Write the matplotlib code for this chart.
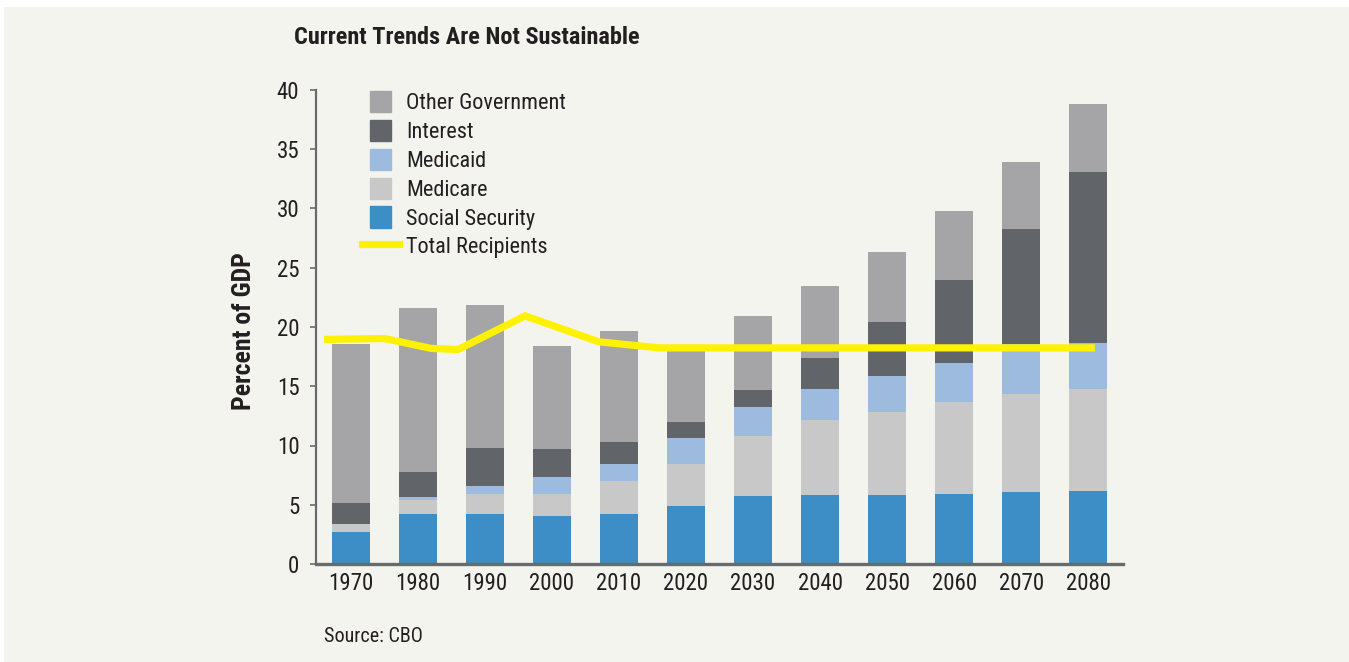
import matplotlib
matplotlib.use('Agg')
import matplotlib.pyplot as plt
from matplotlib.patches import Rectangle
from matplotlib.lines import Line2D
from matplotlib.legend_handler import HandlerPatch
from matplotlib import font_manager
import numpy as np

# spending by decade, percent of GDP
years = ['1970', '1980', '1990', '2000', '2010', '2020',
         '2030', '2040', '2050', '2060', '2070', '2080']
social_security = [2.7, 4.2, 4.2, 4.05, 4.2, 4.9, 5.74, 5.82, 5.82, 5.9, 6.07, 6.16]
medicare = [0.67, 1.2, 1.7, 1.85, 2.8, 3.53, 5.06, 6.32, 7.0, 7.76, 8.29, 8.6]
medicaid = [0.0, 0.25, 0.68, 1.44, 1.43, 2.19, 2.44, 2.62, 3.03, 3.29, 4.24, 3.87]
interest = [1.77, 2.1, 3.2, 2.36, 1.86, 1.35, 1.43, 2.61, 4.55, 7.0, 9.65, 14.42]
other_govt = [13.46, 13.85, 12.06, 8.68, 9.35, 6.13, 6.23, 6.07, 5.9, 5.81, 5.65, 5.75]

# receipts line, yearly vertices
line_years = [1966, 1975, 1982, 1986, 1996, 2007, 2016, 2081]
line_values = [18.95, 19.03, 18.19, 18.1, 20.94, 18.75, 18.24, 18.24]

names = ['Social Security', 'Medicare', 'Medicaid', 'Interest', 'Other Government']
colors = ['#3d8dc6', '#c8c8c8', '#9dbadf', '#616569', '#a5a5a7']
series = [social_security, medicare, medicaid, interest, other_govt]

# pick a condensed face if one is around
installed = {f.name for f in font_manager.fontManager.ttflist}
font = 'Liberation Sans'
for cand in ['Roboto Condensed', 'Archivo Narrow', 'PT Sans Narrow',
             'Liberation Sans Narrow', 'Encode Sans Condensed', 'Open Sans Condensed',
             'Pragati Narrow', 'Asap Condensed']:
    if cand in installed:
        font = cand
        break
plt.rcParams['font.family'] = [font, 'DejaVu Sans']


def square_patch(legend, orig_handle, xdescent, ydescent, width, height, fontsize):
    # square swatch centred in the handle box
    side = height
    return Rectangle((-xdescent + (width - side) / 2, -ydescent), side, side)


W, H = 1349, 662
panel_color = '#f4f4ef'
fig = plt.figure(figsize=(W / 100, H / 100), dpi=100, facecolor='white')
fig.patches.append(Rectangle((4 / W, 0), 1, 1 - 7 / H, transform=fig.transFigure,
                             facecolor=panel_color, edgecolor='none', zorder=-10))

ax = fig.add_axes([316 / W, (H - 564) / H, (1123 - 316) / W, (564 - 90) / H])
ax.patch.set_visible(False)

x = np.arange(len(years))
bottom = np.zeros(len(years))
for vals, name, c in zip(series, names, colors):
    ax.bar(x, vals, width=0.57, bottom=bottom, color=c, label=name, zorder=2)
    bottom += np.array(vals)

# line lives on a year scale: decade index = (year - 1970) / 10
lx = (np.array(line_years) - 1970) / 10.0
ax.plot(lx, line_values, color='#fff200', lw=5.2, solid_joinstyle='miter',
        solid_capstyle='butt', zorder=3)

ax.set_xlim(-0.52, 11.52)
ax.set_ylim(0, 40)
ax.set_yticks(range(0, 41, 5))
ax.set_xticks(x)
ax.set_xticklabels(years)

axis_grey = '#676a6e'
for s in ['top', 'right']:
    ax.spines[s].set_visible(False)
ax.spines['left'].set_color(axis_grey)
ax.spines['left'].set_linewidth(1.6)
ax.spines['bottom'].set_color(axis_grey)
ax.spines['bottom'].set_linewidth(2.4)
ax.tick_params(axis='y', length=4, width=1.2, color=axis_grey, pad=8,
               labelsize=16.5, labelcolor='#231f20')
ax.tick_params(axis='x', length=0, pad=6, labelsize=16.5, labelcolor='#231f20')

ax.set_ylabel('Percent of GDP', fontsize=18.5, fontweight='bold', color='#231f20')
ax.yaxis.set_label_coords((256 - 316) / (1123 - 316), (564 - 331) / (564 - 90))

fig.text(294 / W, 1 - 38 / H, 'Current Trends Are Not Sustainable', fontsize=17.5,
         fontweight='bold', color='#231f20', va='center', ha='left')
fig.text(324 / W, 1 - 636 / H, 'Source: CBO', fontsize=14.5, color='#231f20',
         va='center', ha='left')

# legend, top entry first
handles = [Rectangle((0, 0), 1, 1, color=c) for c in colors[::-1]]
handles.append(Line2D([0], [0], color='#fff200', lw=5.2))
labels = names[::-1] + ['Total Recipients']
leg = ax.legend(handles, labels, loc='upper left', bbox_to_anchor=(362 / W, 1 - 91 / H),
                bbox_transform=fig.transFigure, frameon=False, fontsize=16,
                handlelength=1.67, handleheight=1.08, handletextpad=0.32,
                labelspacing=0.26, borderpad=0, borderaxespad=0,
                handler_map={Rectangle: HandlerPatch(patch_func=square_patch)})
for t in leg.get_texts():
    t.set_color('#231f20')

fig.savefig('out.png', dpi=100, facecolor=fig.get_facecolor())
